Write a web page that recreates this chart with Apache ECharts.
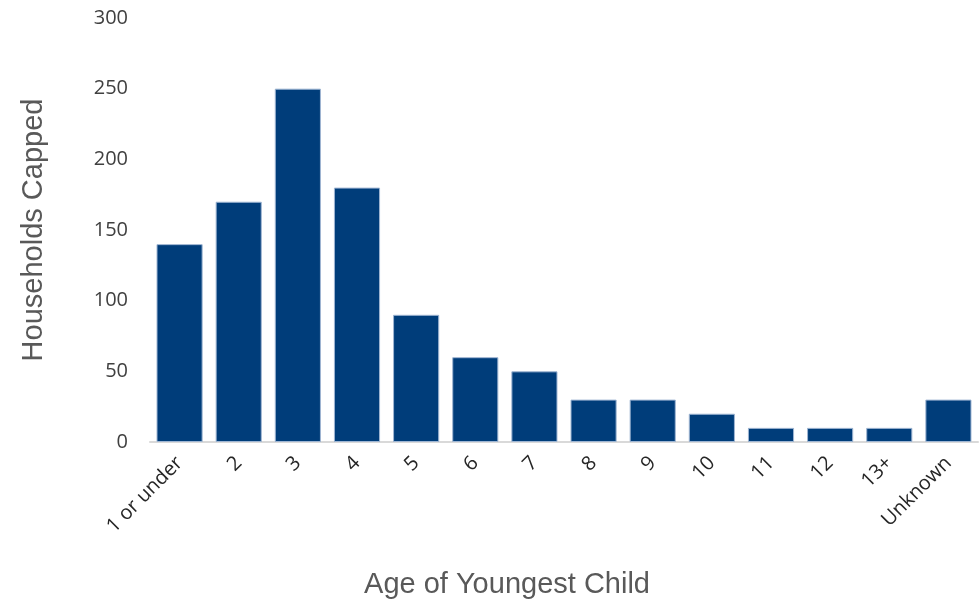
<!DOCTYPE html>
<html>
<head>
<meta charset="utf-8">
<script src="https://cdn.jsdelivr.net/npm/echarts@6/dist/echarts.min.js"></script>
<style>
  html, body { margin: 0; padding: 0; background: #fff; }
  #chart { width: 980px; height: 601px; }
</style>
</head>
<body>
<div id="chart"></div>
<script>
// Households capped by age of youngest child
const categories = ['1 or under', '2', '3', '4', '5', '6', '7', '8', '9', '10', '11', '12', '13+', 'Unknown'];
const householdsCapped = [140, 170, 250, 180, 90, 60, 50, 30, 30, 20, 10, 10, 10, 30];
const yTicks = { min: 0, max: 300, interval: 50 };

const chart = echarts.init(document.getElementById('chart'), null, { renderer: 'canvas' });
chart.setOption({
  animation: false,
  grid: { left: 150, right: 2, top: 18, bottom: 159, containLabel: false, outerBoundsMode: 'none' },
  xAxis: {
    type: 'category',
    data: categories,
    name: 'Age of Youngest Child',
    nameLocation: 'middle',
    nameGap: 128,
    nameTextStyle: { fontFamily: 'Liberation Sans', fontSize: 29, color: '#595959', padding: [0, 114, 0, 0] },
    axisLine: { lineStyle: { color: '#d9d9d9', width: 2 } },
    axisTick: { show: false },
    axisLabel: {
      rotate: 45,
      margin: 18,
      interval: 0,
      fontFamily: 'Open Sans',
      fontSize: 20,
      color: '#262626'
    }
  },
  yAxis: {
    type: 'value',
    min: yTicks.min,
    max: yTicks.max,
    interval: yTicks.interval,
    name: 'Households Capped',
    nameLocation: 'middle',
    nameGap: 102,
    nameRotate: 90,
    nameTextStyle: { fontFamily: 'Liberation Sans', fontSize: 29, color: '#595959' },
    axisLine: { show: false },
    axisTick: { show: false },
    splitLine: { show: false },
    axisLabel: {
      margin: 22,
      fontFamily: 'Open Sans',
      fontSize: 20,
      color: '#404040'
    }
  },
  series: [{
    type: 'bar',
    data: householdsCapped,
    barCategoryGap: '22%',
    itemStyle: { color: '#003d7a', borderColor: '#9fb6d3', borderWidth: 1 }
  }]
});
</script>
</body>
</html>
